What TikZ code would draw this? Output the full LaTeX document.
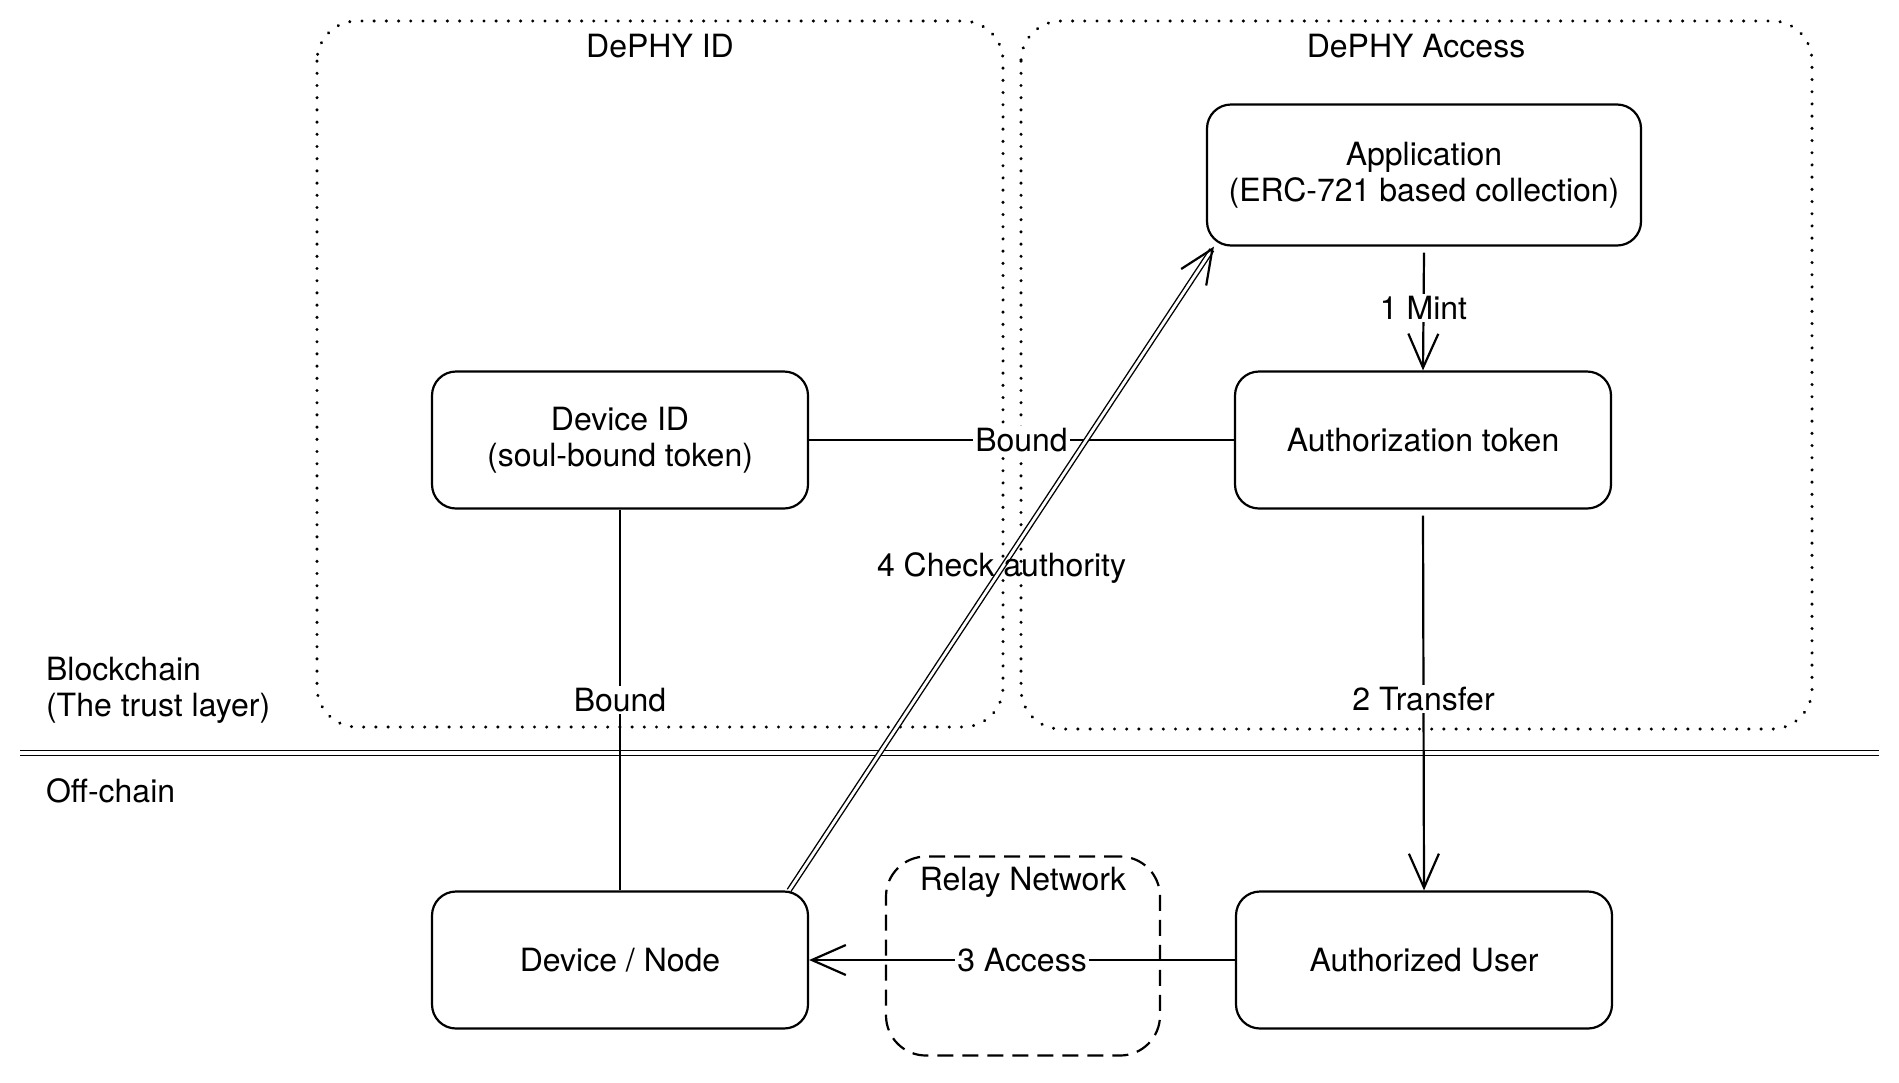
\documentclass[tikz,border=0pt]{standalone}
\usepackage{fontspec}
\setmainfont{TeX Gyre Heros}
\usetikzlibrary{arrows.meta}
\begin{document}
\begin{tikzpicture}[x=0.5pt,y=-0.5pt,
    font=\fontsize{16}{18}\selectfont,
    block/.style={draw,line width=1.1pt,rounded corners=12pt,align=center,
      minimum width=188pt,minimum height=68.5pt},
    group/.style={line width=1.6pt,dash pattern=on 0.1pt off 6pt,line cap=round,
      rounded corners=20pt},
    relay/.style={draw,line width=1.1pt,dash pattern=on 8pt off 4.5pt,
      rounded corners=20pt,minimum width=137pt,minimum height=99.5pt},
    flow/.style={line width=1.1pt,-{Straight Barb[length=17pt,width=15pt,line width=1.1pt]}},
    lbl/.style={fill=white,inner sep=1pt}]
  \useasboundingbox (0,0) rectangle (1899,1082);
  % groups on chain
  \draw [group] (317,21) rectangle (1003,727);
  \draw [group] (1021,21) rectangle (1812,729);
  \node (idtitle) at (660,46) {DePHY ID};
  \node (acctitle) at (1416,46) {DePHY Access};
  % layer separator
  \draw [double,line width=0.8pt,double distance=1.6pt] (20,753) -- (1879,753);
  \node [anchor=west,align=left] (chain) at (39,690) {Blockchain\\(The trust layer)};
  \node [anchor=west] (offchain) at (39,791) {Off-chain};
  % blocks
  \node [block,minimum width=217pt,minimum height=70.5pt] (app) at (1424,175)
    {Application\\(ERC-721 based collection)};
  \node [block] (auth) at (1423,440) {Authorization token};
  \node [block] (devid) at (620,440) {Device ID\\(soul-bound token)};
  \node [block] (dev) at (620,960) {Device / Node};
  \node [block] (user) at (1424,960) {Authorized User};
  \node [relay] (relay) at (1023,956) {};
  \node (relaytitle) at (1023,882) {Relay Network};
  % connectors
  \draw [line width=1.1pt] (devid.south) -- (dev.north) node [lbl,midway] {Bound};
  \draw [line width=1.1pt] (devid.east) -- (auth.west) node [lbl,midway] {Bound};
  \draw [flow] ([yshift=-3pt]app.south) -- (auth.north) node [lbl,pos=0.47] {1 Mint};
  \draw [flow] ([yshift=-3pt]auth.south) -- (user.north) node [lbl,pos=0.49] {2 Transfer};
  \draw [flow] (user.west) -- (dev.east) node [lbl,midway] {3 Access};
  \draw [flow,double,line width=0.7pt,double distance=1.4pt]
    ([xshift=-10pt]dev.north east) -- ([xshift=4pt]app.south west)
    node [midway,inner sep=1pt] {4 Check authority};
\end{tikzpicture}
\end{document}
